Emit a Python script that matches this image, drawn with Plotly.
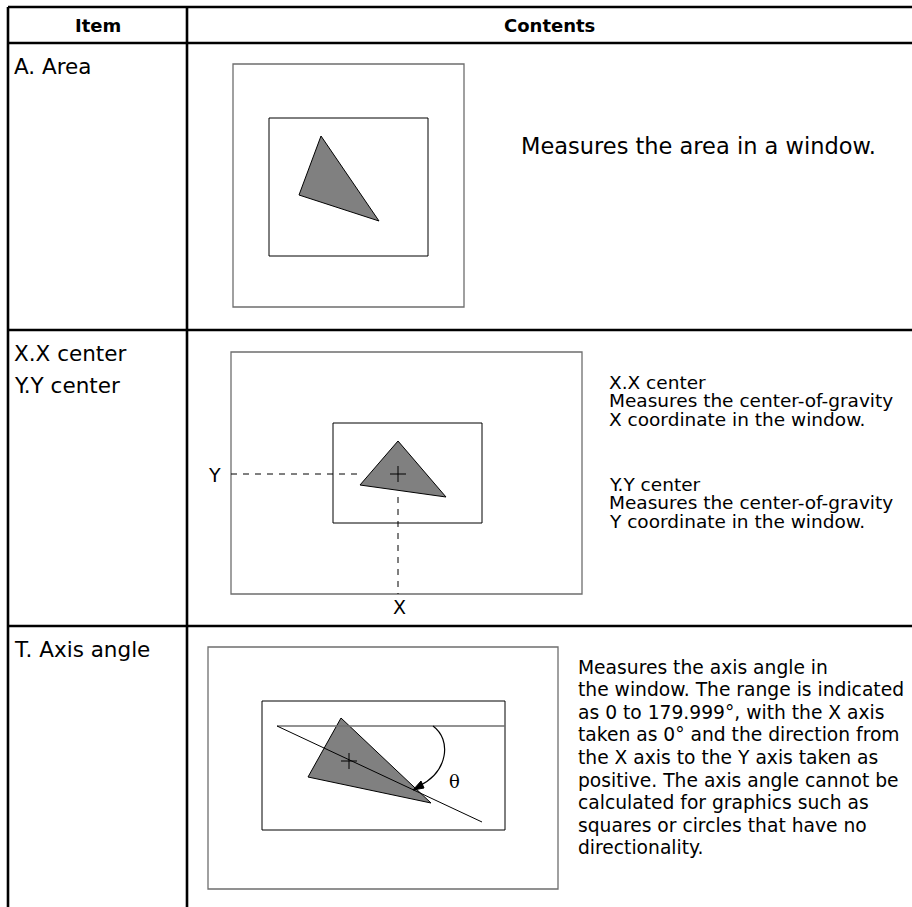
import plotly.graph_objects as go

W, H = 912, 907

# ---------------- data ----------------
header_labels = ["Item", "Contents"]
row_labels = [["A. Area"], ["X.X center", "Y.Y center"], ["T. Axis angle"]]
area_text = ["Measures the area in a window."]
center_text_x = ["X.X center", "Measures the center-of-gravity", "X coordinate in the window."]
center_text_y = ["Y.Y center", "Measures the center-of-gravity", "Y coordinate in the window."]
angle_text = [
    "Measures the axis angle in",
    "the window. The range is indicated",
    "as 0 to 179.999°, with the X axis",
    "taken as 0° and the direction from",
    "the X axis to the Y axis taken as",
    "positive. The axis angle cannot be",
    "calculated for graphics such as",
    "squares or circles that have no",
    "directionality.",
]

# geometry of the drawn figures (pixel coordinates)
table_x = [8, 187, 912]
table_y = [7, 43, 330, 626, 907]

area_outer = [233, 64, 464, 307]
area_inner = [269, 118, 428, 256]
area_tri = [(321, 136), (299, 195), (379, 221)]

cen_outer = [231, 352, 582, 594]
cen_inner = [333, 423, 482, 523]
cen_tri = [(398, 441), (360, 485), (446, 497)]
cen_pt = (398, 474)

ang_outer = [208, 647, 558, 889]
ang_inner = [262, 701, 505, 830]
ang_tri = [(341, 718), (308, 777), (431, 803)]
ang_pt = (349, 761)
ang_hline = [(277, 726), (505, 726)]
ang_axis = [(277, 726), (482, 822)]

FONT = "DejaVu Sans"
shapes = []
ann = []


def line(x0, y0, x1, y1, color="black", width=1, dash="solid"):
    shapes.append(dict(type="line", x0=x0, y0=y0, x1=x1, y1=y1, xref="x", yref="y",
                       line=dict(color=color, width=width, dash=dash)))


def rect(b, color, width):
    shapes.append(dict(type="rect", x0=b[0], y0=b[1], x1=b[2], y1=b[3], xref="x", yref="y",
                       line=dict(color=color, width=width), fillcolor="rgba(0,0,0,0)"))


def tri(pts, fill="#808080"):
    p = "M {} {} L {} {} L {} {} Z".format(*[c for pt in pts for c in pt])
    shapes.append(dict(type="path", path=p, xref="x", yref="y",
                       fillcolor=fill, line=dict(color="black", width=1)))


def cross(pt, s=8):
    line(pt[0] - s, pt[1], pt[0] + s, pt[1], width=1)
    line(pt[0], pt[1] - s, pt[0], pt[1] + s, width=1)


def text(x, y, s, size, bold=False, anchor="left"):
    ann.append(dict(x=x, y=y, xref="x", yref="y", text=("<b>%s</b>" % s) if bold else s,
                    showarrow=False, xanchor=anchor, yanchor="middle",
                    font=dict(family=FONT, size=size, color="black")))


# ---------------- table frame ----------------
line(table_x[0], table_y[0], W, table_y[0], width=2.6)
for yy in table_y[1:4]:
    line(table_x[0], yy, W, yy, width=2.6)
line(table_x[0], table_y[0], table_x[0], H, width=2.6)
line(table_x[1], table_y[0], table_x[1], H, width=2.6)

text((table_x[0] + table_x[1]) / 2, 25, header_labels[0], 18, bold=True, anchor="center")
text((table_x[1] + W) / 2, 25, header_labels[1], 18, bold=True, anchor="center")

text(12, 66, row_labels[0][0], 21.5)
text(12, 353, row_labels[1][0], 21.5)
text(12, 385, row_labels[1][1], 21.5)
text(12, 649, row_labels[2][0], 21.5)

# ---------------- A. Area ----------------
rect(area_outer, "#6e6e6e", 1.3)
rect(area_inner, "black", 1)
tri(area_tri)
text(519, 146, area_text[0], 22.5)

# ---------------- X/Y center ----------------
rect(cen_outer, "#6e6e6e", 1.3)
rect(cen_inner, "black", 1)
tri(cen_tri)
cross(cen_pt, 8)
line(cen_outer[0], cen_pt[1], 360, cen_pt[1], width=1, dash="6px,6px")
line(cen_pt[0], 497, cen_pt[0], cen_outer[3], width=1, dash="6px,6px")
text(cen_outer[0] - 8, cen_pt[1] + 1, "Y", 19, anchor="right")
text(cen_pt[0] + 1, 607, "X", 19, anchor="center")
for i, s in enumerate(center_text_x):
    text(607, 382 + 18.7 * i, s, 18.5)
for i, s in enumerate(center_text_y):
    text(607, 484 + 18.7 * i, s, 18.5)

# ---------------- T. Axis angle ----------------
rect(ang_outer, "#6e6e6e", 1.3)
rect(ang_inner, "black", 1)
tri(ang_tri)
line(ang_hline[0][0], ang_hline[0][1], ang_hline[1][0], ang_hline[1][1], color="#6e6e6e", width=1.3)
line(ang_axis[0][0], ang_axis[0][1], ang_axis[1][0], ang_axis[1][1], width=1)
cross(ang_pt, 8)
# theta arc with arrow head
shapes.append(dict(type="path", xref="x", yref="y",
                   path="M 433 726 C 452 740, 448 772, 419 786",
                   line=dict(color="black", width=1.2)))
shapes.append(dict(type="path", xref="x", yref="y",
                   path="M 413 790 L 421 781 L 424 788 Z",
                   fillcolor="black", line=dict(color="black", width=1)))
ann.append(dict(x=454, y=781, xref="x", yref="y", text="θ", showarrow=False,
                xanchor="center", yanchor="middle",
                font=dict(family="DejaVu Serif", size=18, color="black")))
for i, s in enumerate(angle_text):
    text(576, 667 + 22.6 * i, s, 18.7)

fig = go.Figure()
fig.update_layout(
    width=W, height=H, margin=dict(l=0, r=0, t=0, b=0),
    paper_bgcolor="white", plot_bgcolor="white",
    xaxis=dict(range=[0, W], visible=False, fixedrange=True),
    yaxis=dict(range=[H, 0], visible=False, fixedrange=True),
    shapes=shapes, annotations=ann, showlegend=False,
)
fig.write_html("out.html", config={"displayModeBar": False},
               post_script="document.body.style.margin='0px';document.body.style.overflow='hidden';")
